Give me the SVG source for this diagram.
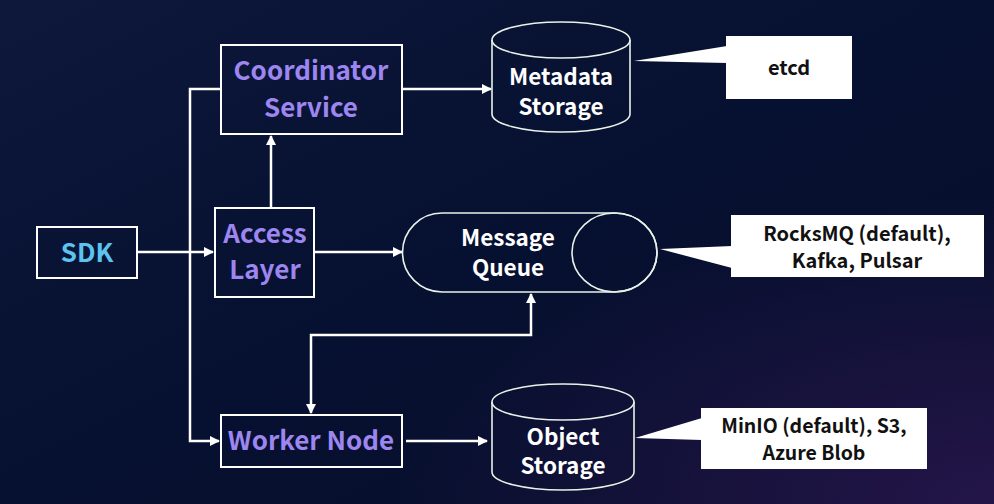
<svg xmlns="http://www.w3.org/2000/svg" width="994" height="504" viewBox="0 0 994 504">
<defs>
<linearGradient id="bg" x1="0" y1="0" x2="1" y2="1">
<stop offset="0" stop-color="#0d183b"/>
<stop offset="0.5" stop-color="#061030"/>
<stop offset="1" stop-color="#0a0f2c"/>
</linearGradient>
<radialGradient id="glow" cx="1" cy="1" r="0.6">
<stop offset="0" stop-color="#2a1650" stop-opacity="0.8"/>
<stop offset="1" stop-color="#2a1650" stop-opacity="0"/>
</radialGradient>
<marker id="arr" viewBox="0 0 10 10" refX="9" refY="5" markerWidth="10" markerHeight="10" markerUnits="userSpaceOnUse" orient="auto-start-reverse">
<path d="M0,0 L10,5 L0,10 Z" fill="#ffffff"/>
</marker>
<style>
.box{fill:none;stroke:#ffffff;stroke-width:2}
.cyl{fill:none;stroke:#e8f2e8;stroke-width:1.6}
.lbl{font-family:"Noto Sans CJK SC","Noto Sans",sans-serif;font-weight:700;text-anchor:middle}
.pur{fill:#9d86f0;font-size:26px}
.wht{fill:#ffffff;font-size:22.5px}
.blk{fill:#111111;font-size:20px}
.sm{font-size:19.5px}
.con{fill:none;stroke:#ffffff;stroke-width:2.5}
.call{fill:#ffffff}
</style>
</defs>
<rect width="994" height="504" fill="url(#bg)"/>
<rect width="994" height="504" fill="url(#glow)"/>

<g id="connectors">
<path class="con" d="M137,252 H213" marker-end="url(#arr)"/>
<path class="con" d="M221,89 H190 V441 H219" marker-end="url(#arr)"/>
<path class="con" d="M271,208 V136" marker-end="url(#arr)"/>
<path class="con" d="M402,89 H491" marker-end="url(#arr)"/>
<path class="con" d="M314,252 H402" marker-end="url(#arr)"/>
<path class="con" d="M311,413 V335 H531 V294" marker-start="url(#arr)" marker-end="url(#arr)"/>
<path class="con" d="M406,441 H487" marker-end="url(#arr)"/>
</g>

<g id="sdk">
<rect class="box" x="37" y="227" width="100" height="51"/>
<text class="lbl" x="87" y="262" fill="#5cc3ee" font-size="26">SDK</text>
</g>

<g id="coordinator">
<rect class="box" x="221" y="45" width="181" height="89"/>
<text class="lbl pur" x="311" y="80">Coordinator</text>
<text class="lbl pur" x="311" y="117">Service</text>
</g>

<g id="access">
<rect class="box" x="215" y="208" width="99" height="89"/>
<text class="lbl pur" x="265" y="243">Access</text>
<text class="lbl pur" x="265" y="279">Layer</text>
</g>

<g id="worker">
<rect class="box" x="221" y="415" width="181" height="52"/>
<text class="lbl pur" x="311" y="450">Worker Node</text>
</g>

<g id="metadata">
<path class="cyl" d="M492,40 V114 A69,18 0 0 0 630,114 V40"/>
<ellipse class="cyl" cx="561" cy="40" rx="69" ry="18"/>
<text class="lbl wht" x="561" y="85">Metadata</text>
<text class="lbl wht" x="561" y="115">Storage</text>
</g>

<g id="queue">
<path class="cyl" d="M442,213 H614.5 A42.5,39.5 0 0 1 614.5,292 H442 A39.5,39.5 0 0 1 442,213 Z"/>
<ellipse class="cyl" cx="614.5" cy="252.5" rx="42.5" ry="39.5"/>
<text class="lbl wht" x="508" y="246">Message</text>
<text class="lbl wht" x="508" y="276">Queue</text>
</g>

<g id="object">
<path class="cyl" d="M492,402 V472 A71,18 0 0 0 634,472 V402"/>
<ellipse class="cyl" cx="563" cy="402" rx="71" ry="18"/>
<text class="lbl wht" x="563" y="445">Object</text>
<text class="lbl wht" x="563" y="474">Storage</text>
</g>

<g id="etcd">
<polygon class="call" points="634,61 727,46 727,63"/>
<rect class="call" x="726" y="36" width="126" height="63"/>
<text class="lbl blk" x="789" y="75">etcd</text>
</g>

<g id="mqnote">
<polygon class="call" points="660,249 732,246 732,268"/>
<rect class="call" x="731" y="215" width="253" height="62"/>
<text class="lbl blk" x="857" y="241">RocksMQ (default),</text>
<text class="lbl blk" x="857" y="268">Kafka, Pulsar</text>
</g>

<g id="osnote">
<polygon class="call" points="635,438 702,418 702,440"/>
<rect class="call" x="701" y="408" width="226" height="61"/>
<text class="lbl blk sm" x="814" y="433">MinIO (default), S3,</text>
<text class="lbl blk sm" x="814" y="459.5">Azure Blob</text>
</g>
</svg>
